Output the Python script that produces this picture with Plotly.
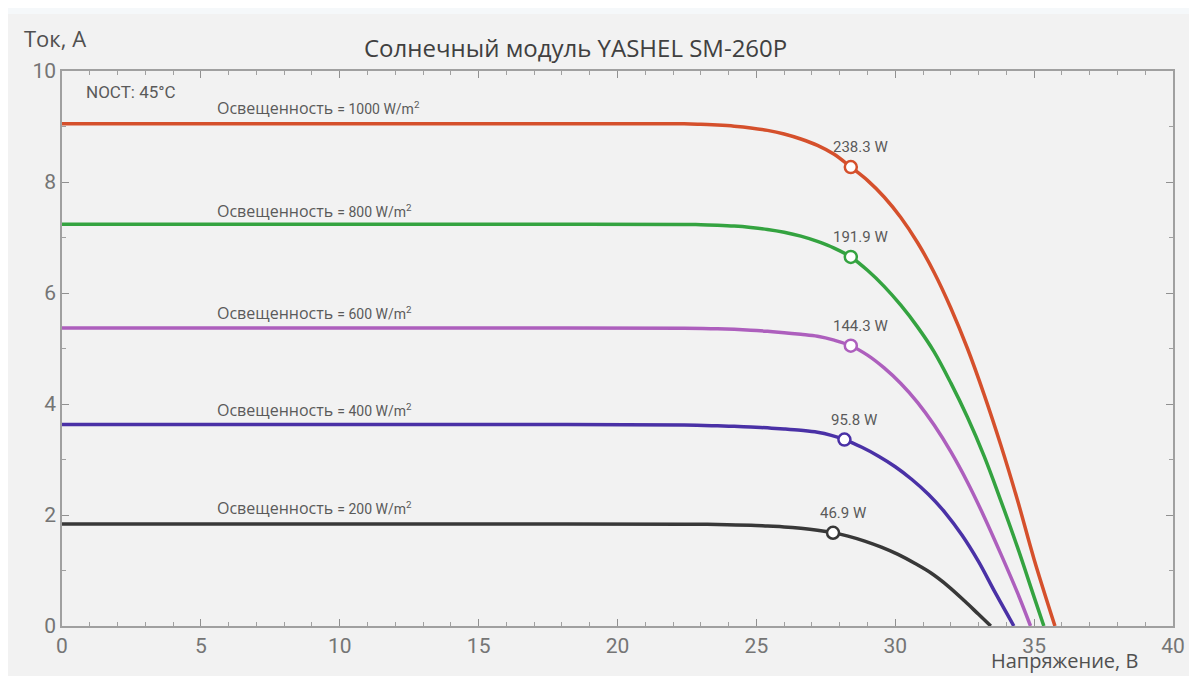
import plotly.graph_objects as go

# ---- data (voltage V, current A) ----
v_1000 = [0, 10, 18, 22.4, 23.0, 23.6, 24.2, 24.8, 25.4, 26.0, 26.6, 27.2, 27.8, 28.4,
          29.0, 29.6, 30.2, 30.8, 31.4, 32.0, 32.6, 33.2, 33.8, 34.4, 35.0, 35.75]
i_1000 = [9.05, 9.05, 9.05, 9.05, 9.04, 9.025, 9.005, 8.975, 8.93, 8.865, 8.775, 8.66, 8.50, 8.27,
          8.03, 7.73, 7.36, 6.91, 6.37, 5.73, 5.00, 4.17, 3.26, 2.27, 1.20, 0.0]

v_800 = [0, 10, 18, 22.4, 23.0, 23.6, 24.2, 24.8, 25.4, 26.0, 26.6, 27.2, 27.8, 28.4,
         29.0, 29.6, 30.2, 30.8, 31.4, 32.0, 32.6, 33.2, 33.8, 34.4, 35.0, 35.35]
i_800 = [7.24, 7.24, 7.24, 7.235, 7.23, 7.22, 7.205, 7.18, 7.145, 7.095, 7.025, 6.93, 6.81, 6.65,
         6.41, 6.12, 5.78, 5.39, 4.94, 4.38, 3.76, 3.06, 2.26, 1.42, 0.52, 0.0]

v_600 = [0, 10, 18, 22.4, 23.6, 24.8, 25.4, 26.0, 26.6, 27.2, 27.8, 28.4,
         29.0, 29.6, 30.2, 30.8, 31.4, 32.0, 32.6, 33.2, 33.8, 34.4, 34.87]
i_600 = [5.37, 5.37, 5.37, 5.365, 5.355, 5.33, 5.31, 5.285, 5.255, 5.22, 5.15, 5.05,
         4.88, 4.65, 4.37, 4.03, 3.62, 3.14, 2.59, 1.97, 1.30, 0.60, 0.0]

v_400 = [0, 10, 18, 22.4, 23.6, 24.2, 24.8, 25.4, 26.0, 26.6, 27.2, 27.7, 28.17,
         28.8, 29.4, 30.0, 30.6, 31.2, 31.8, 32.4, 33.0, 33.6, 34.27]
i_400 = [3.63, 3.63, 3.63, 3.62, 3.606, 3.597, 3.585, 3.57, 3.55, 3.525, 3.49, 3.435, 3.36,
         3.22, 3.06, 2.87, 2.64, 2.37, 2.04, 1.64, 1.16, 0.60, 0.0]

v_200 = [0, 10, 18, 22.4, 23.6, 24.8, 25.4, 26.0, 26.6, 27.2, 27.76,
         28.3, 28.9, 29.5, 30.1, 30.7, 31.3, 31.9, 32.5, 33.0, 33.44]
i_200 = [1.84, 1.84, 1.84, 1.835, 1.83, 1.815, 1.80, 1.785, 1.76, 1.725, 1.68,
         1.62, 1.53, 1.42, 1.29, 1.13, 0.95, 0.72, 0.45, 0.21, 0.0]

mpp_v = [28.4, 28.4, 28.4, 28.17, 27.76]
mpp_i = [8.27, 6.65, 5.05, 3.36, 1.68]
mpp_labels = ["238.3 W", "191.9 W", "144.3 W", "95.8 W", "46.9 W"]
irr_labels = ["1000", "800", "600", "400", "200"]
label_i = [9.33, 7.48, 5.64, 3.89, 2.13]

x_ticks = [0, 5, 10, 15, 20, 25, 30, 35, 40]
y_ticks = [0, 2, 4, 6, 8, 10]

colors = ["#d5502c", "#34a340", "#ad5fbd", "#4a31a6", "#383838"]
curves_v = [v_1000, v_800, v_600, v_400, v_200]
curves_i = [i_1000, i_800, i_600, i_400, i_200]

fig = go.Figure()
for k in range(5):
    fig.add_trace(go.Scatter(
        x=curves_v[k], y=curves_i[k], mode="lines",
        line=dict(color=colors[k], width=3.5, shape="spline", smoothing=1.0),
        showlegend=False, hoverinfo="skip"))
for k in range(5):
    fig.add_trace(go.Scatter(
        x=[mpp_v[k]], y=[mpp_i[k]], mode="markers",
        marker=dict(symbol="circle", size=12, color="#ffffff",
                    line=dict(color=colors[k], width=2.5)),
        showlegend=False, hoverinfo="skip"))

txt = "#5a5a5a"
narrow = "Liberation Sans Narrow, Roboto"
ann = []
for k in range(5):
    ann.append(dict(x=5.5, y=label_i[k], xref="x", yref="y", xanchor="left", yanchor="middle",
                    text="Освещенность <span style='font-family:Roboto;font-size:14px'>= "
                         + irr_labels[k] + " W/m<sup>2</sup></span>",
                    showarrow=False, font=dict(family="Open Sans", size=16, color=txt)))
    ann.append(dict(x=mpp_v[k] + 0.35, y=mpp_i[k], xref="x", yref="y", xanchor="center", yanchor="bottom",
                    yshift=9, text=mpp_labels[k], showarrow=False,
                    font=dict(family=narrow, size=15, color=txt)))
ann.append(dict(x=0.8, y=9.62, xref="x", yref="y", xanchor="left", yanchor="middle",
                text="NOCT: 45°C", showarrow=False,
                font=dict(family=narrow, size=17, color=txt)))
ann.append(dict(x=0.4625, y=1.043, xref="paper", yref="paper", xanchor="center", yanchor="middle",
                text="Солнечный модуль YASHEL SM-260P", showarrow=False,
                font=dict(family="Open Sans", size=24, color="#404040")))
ann.append(dict(x=-0.0357, y=1.059, xref="paper", yref="paper", xanchor="left", yanchor="middle",
                text="Ток, А", showarrow=False,
                font=dict(family="Open Sans", size=22, color="#505050")))
ann.append(dict(x=0.9696, y=-49 / 555, xref="paper", yref="paper", xanchor="right", yanchor="bottom",
                text="Напряжение, В", showarrow=False, borderpad=0,
                font=dict(family="Open Sans", size=20, color="#505050")))

axis_common = dict(
    showline=True, linecolor="#a0a0a0", linewidth=1.5, mirror="ticks",
    ticks="inside", ticklen=7, tickwidth=1.3, tickcolor="#909090",
    showgrid=False, zeroline=False, ticklabeloverflow="allow",
    tickfont=dict(family=narrow, size=21, color="#757575"),
    minor=dict(ticks="inside", ticklen=4, tickwidth=1.1, tickcolor="#a0a0a0", dtick=1, showgrid=False),
)

# page body has an 8px margin, so the figure is drawn 8px in from the window corner
fig.update_layout(
    width=1189, height=668,
    margin=dict(l=54, r=15, t=63, b=50),
    paper_bgcolor="#f2f2f2", plot_bgcolor="#f2f2f2",
    annotations=ann,
    shapes=[
        dict(type="rect", xref="paper", yref="paper", x0=-0.06, x1=1.02,
             y0=1.0 + 57 / 555, y1=1.0 + 63 / 555, fillcolor="#f5f8fa", line=dict(width=0), layer="below"),
    ],
)
fig.update_xaxes(range=[0, 40], tickvals=x_ticks, **axis_common)
fig.update_yaxes(range=[0, 10], tickvals=y_ticks, **axis_common)

fig.write_html("out.html")
